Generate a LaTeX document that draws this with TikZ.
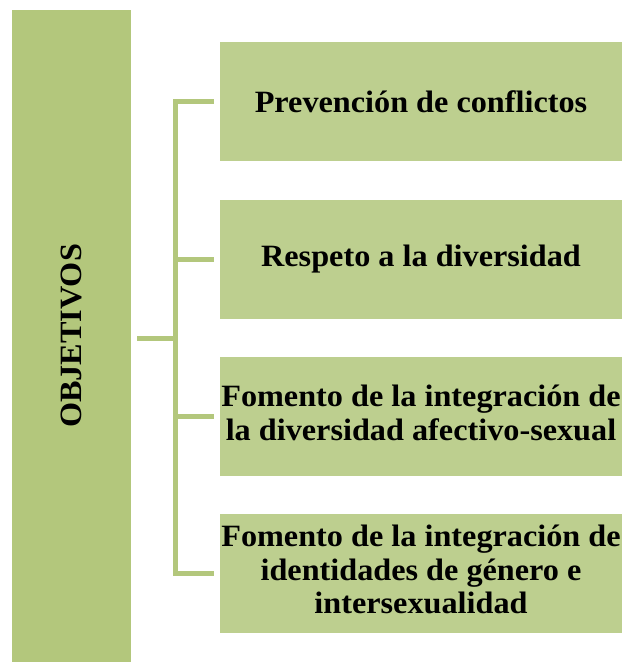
\documentclass[tikz,border=0pt]{standalone}
\usepackage{fontspec}
\setmainfont{Liberation Serif}
\usetikzlibrary{positioning}
\definecolor{objgreen}{HTML}{B3C77C}
\definecolor{goalgreen}{HTML}{BDCF8F}
\newcommand{\widetext}[1]{\scalebox{1.04}[1]{#1}}

\begin{document}
\begin{tikzpicture}[x=1pt,y=-1pt,font=\bfseries\fontsize{31}{33.7}\selectfont,
    objbox/.style={rectangle,fill=objgreen,minimum width=119pt,minimum height=652pt,inner sep=0pt},
    goalbox/.style={rectangle,fill=goalgreen,minimum width=402pt,minimum height=119pt,inner sep=0pt},
    link/.style={draw=objgreen,line width=5pt}]
    \useasboundingbox (0,0) rectangle (622,662);

    % main modules
      \node[objbox] (obj) at (71.5,336) {\rotatebox{90}{\widetext{OBJETIVOS}}};
      \node[goalbox] (g1) at (421,101.5) {\widetext{Prevención de conflictos}};
      \node[goalbox] (g2) at (421,259) {\widetext{Respeto a la diversidad}};
      \node[goalbox] (g3) at (421,416.5) {\widetext{\begin{tabular}{@{}c@{}}Fomento de la integración de\\la diversidad afectivo-sexual\end{tabular}}};
      \node[goalbox] (g4) at (421,573.5) {\widetext{\begin{tabular}{@{}c@{}}Fomento de la integración de\\identidades de género e\\intersexualidad\end{tabular}}};

      % connections
      \coordinate (trunk) at (175,338);
      \path (obj.east) ++(6,0) coordinate (objout);
      \draw[link] (objout |- trunk) -- (trunk);
      \draw[link] ([xshift=-6pt]g1.west) -| (trunk) |- ([xshift=-6pt]g4.west);
      \draw[link] (trunk |- g2.west) -- ([xshift=-6pt]g2.west);
      \draw[link] (trunk |- g3.west) -- ([xshift=-6pt]g3.west);

    \end{tikzpicture}
\end{document}
